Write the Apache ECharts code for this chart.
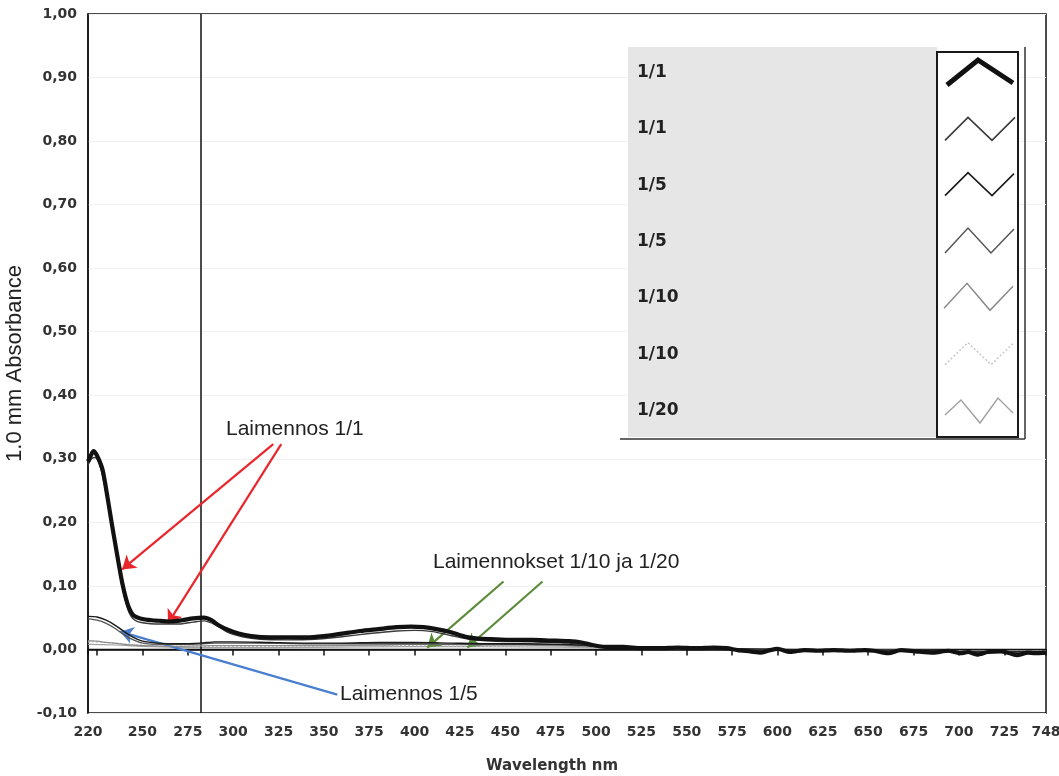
<!DOCTYPE html>
<html><head><meta charset="utf-8">
<script src="https://cdn.jsdelivr.net/npm/echarts@6/dist/echarts.min.js"></script>
<style>html,body{margin:0;padding:0;background:#fff}#c{width:1059px;height:776px}</style>
</head><body><div id="c"></div>
<script>
// ---- data ----
const seriesNames = ['1/1', '1/1', '1/5', '1/5', '1/10', '1/10', '1/20'];
const xTickValues = [220, 225, 250, 275, 300, 325, 350, 375, 400, 425, 450, 475, 500, 525, 550, 575, 600, 625, 650, 675, 700, 725, 748];
const xTickLabels = [220, 250, 275, 300, 325, 350, 375, 400, 425, 450, 475, 500, 525, 550, 575, 600, 625, 650, 675, 700, 725, 748];
const yTickValues = [-0.1, 0, 0.1, 0.2, 0.3, 0.4, 0.5, 0.6, 0.7, 0.8, 0.9, 1.0];
const yTickLabels = ['-0,10', '0,00', '0,10', '0,20', '0,30', '0,40', '0,50', '0,60', '0,70', '0,80', '0,90', '1,00'];
const markerWavelength = 282;

const wl11a = [220, 221.5, 223, 225, 228, 231, 233, 236, 239, 242, 245, 250, 255, 260, 266, 272, 278, 284, 288, 292, 297, 303, 310, 320, 330, 340, 350, 360, 370, 380, 390, 398, 405, 412, 420, 428, 435, 445, 455, 465, 475, 485, 492, 498, 505, 515, 525, 535, 545, 555, 565, 572, 578, 585, 591, 596, 600, 607, 615, 622, 631, 640, 648, 653, 661, 668, 676, 686, 694, 701, 705, 710, 716, 723, 728, 732, 738, 742, 748];
const ab11a = [0.296, 0.305, 0.312, 0.305, 0.283, 0.235, 0.200, 0.150, 0.103, 0.070, 0.054, 0.048, 0.046, 0.045, 0.044, 0.046, 0.049, 0.050, 0.046, 0.038, 0.031, 0.025, 0.021, 0.019, 0.019, 0.019, 0.021, 0.025, 0.029, 0.032, 0.035, 0.036, 0.035, 0.032, 0.027, 0.020, 0.017, 0.016, 0.015, 0.015, 0.014, 0.013, 0.011, 0.007, 0.004, 0.004, 0.002, 0.002, 0.003, 0.002, 0.003, 0.002, -0.001, -0.003, -0.005, -0.001, 0.001, -0.004, -0.001, -0.002, -0.001, -0.002, -0.001, -0.002, -0.006, -0.001, -0.003, -0.005, -0.002, -0.006, -0.004, -0.008, -0.004, -0.003, -0.006, -0.009, -0.005, -0.006, -0.005];

const wl11b = [220, 222, 224, 227, 230, 233, 236, 239, 242, 245, 250, 260, 270, 278, 284, 290, 297, 305, 315, 330, 345, 360, 375, 390, 400, 410, 420, 430, 445, 465, 485, 500, 520, 560, 600, 650, 700, 748];
const ab11b = [0.290, 0.300, 0.302, 0.285, 0.245, 0.195, 0.143, 0.097, 0.063, 0.048, 0.042, 0.040, 0.040, 0.043, 0.045, 0.039, 0.027, 0.020, 0.016, 0.015, 0.016, 0.020, 0.025, 0.029, 0.030, 0.028, 0.022, 0.016, 0.013, 0.012, 0.010, 0.005, 0.002, 0.001, -0.001, -0.002, -0.004, -0.005];

const wl15a = [220, 225, 230, 235, 240, 245, 250, 258, 270, 282, 290, 300, 320, 340, 360, 380, 400, 420, 440, 460, 480, 500, 520, 560, 600, 650, 700, 748];
const ab15a = [0.052, 0.051, 0.046, 0.038, 0.028, 0.019, 0.013, 0.010, 0.009, 0.010, 0.012, 0.012, 0.011, 0.010, 0.010, 0.011, 0.011, 0.010, 0.009, 0.009, 0.008, 0.006, 0.003, 0.002, 0.000, -0.001, -0.003, -0.004];

const wl15b = [220, 225, 230, 235, 240, 245, 250, 260, 275, 290, 310, 340, 370, 400, 430, 460, 490, 505, 530, 600, 700, 748];
const ab15b = [0.048, 0.046, 0.041, 0.033, 0.023, 0.015, 0.010, 0.008, 0.008, 0.010, 0.010, 0.009, 0.009, 0.009, 0.008, 0.008, 0.007, 0.004, 0.002, 0.000, -0.003, -0.004];

const wl110a = [220, 225, 230, 240, 250, 270, 290, 320, 350, 380, 400, 420, 440, 460, 480, 500, 530, 600, 700, 748];
const ab110a = [0.014, 0.013, 0.011, 0.008, 0.006, 0.005, 0.006, 0.006, 0.006, 0.007, 0.008, 0.008, 0.007, 0.007, 0.006, 0.004, 0.001, 0.000, -0.002, -0.003];

const wl110b = [220, 230, 240, 255, 280, 320, 360, 400, 440, 480, 505, 550, 650, 748];
const ab110b = [0.012, 0.011, 0.009, 0.006, 0.005, 0.005, 0.005, 0.006, 0.005, 0.005, 0.003, 0.001, -0.001, -0.002];

const wl120 = [220, 235, 250, 280, 320, 370, 420, 460, 500, 550, 650, 748];
const ab120 = [0.008, 0.007, 0.005, 0.003, 0.003, 0.004, 0.005, 0.004, 0.003, 0.001, -0.001, -0.002];

// annotation arrows in data space: [start, tip]
const redArrows = [[[322.1, 0.323], [238.8, 0.126]], [[326.5, 0.323], [264.1, 0.041]]];
const greenArrows = [[[449.0, 0.107], [407.0, 0.003]], [[470.5, 0.107], [429.1, 0.003]]];
const blueArrows = [[[357.4, -0.071], [237.7, 0.028]]];
const annotationTexts = ['Laimennos 1/1', 'Laimennokset 1/10 ja 1/20', 'Laimennos 1/5'];

// ---- styles ----
const seriesStyles = [
  { color: '#111111', width: 4.2, type: 'solid', z: 9 },
  { color: '#3a3a3a', width: 1.4, type: 'solid', z: 8 },
  { color: '#1a1a1a', width: 1.4, type: 'solid', z: 7 },
  { color: '#555555', width: 1.3, type: 'solid', z: 6 },
  { color: '#8a8a8a', width: 1.3, type: 'solid', z: 5 },
  { color: '#c4c4c4', width: 1.2, type: [2, 2], z: 4 },
  { color: '#a0a0a0', width: 1.2, type: 'solid', z: 3 }
];
const xs = [wl11a, wl11b, wl15a, wl15b, wl110a, wl110b, wl120];
const ys = [ab11a, ab11b, ab15a, ab15b, ab110a, ab110b, ab120];

const chart = echarts.init(document.getElementById('c'), null, { renderer: 'canvas' });

const lineSeries = seriesNames.map((name, i) => ({
  name: name,
  type: 'line',
  data: xs[i].map((x, k) => [x, ys[i][k]]),
  showSymbol: false,
  smooth: 0.25,
  z: seriesStyles[i].z,
  lineStyle: { color: seriesStyles[i].color, width: seriesStyles[i].width, type: seriesStyles[i].type },
  itemStyle: { color: seriesStyles[i].color },
  silent: true
}));

function arrowLines(arr) {
  return arr.map(a => [{ coord: a[0] }, { coord: a[1] }]);
}
function arrowSeries(arr, color) {
  return {
    type: 'line', data: [], silent: true, z: 12,
    markLine: {
      silent: true, animation: false,
      symbol: ['none', 'arrow'], symbolSize: 13,
      label: { show: false },
      lineStyle: { color: color, width: 2.2, type: 'solid' },
      emphasis: { disabled: true },
      data: arrowLines(arr)
    }
  };
}

const refSeries = {
  type: 'line', data: [], silent: true, z: 10,
  markLine: {
    silent: true, animation: false, symbol: ['none', 'none'],
    label: { show: false },
    emphasis: { disabled: true },
    data: [
      { xAxis: markerWavelength, lineStyle: { color: '#111', width: 1.5, type: 'solid' } },
      { yAxis: 0, lineStyle: { color: '#111', width: 1.3, type: 'solid' } }
    ]
  }
};

// legend graphics (drawn as a boxed key like the original)
const rowY = seriesNames.map((_, i) => 75 + i * 56.33);
const iconShapes = [
  [[947, 10], [978, -15], [1013, 8]],
  [[945, 9], [968, -14], [992, 9], [1015, -14]],
  [[945, 8], [968, -15], [992, 8], [1014, -14]],
  [[945, 9], [968, -16], [991, 9], [1014, -15]],
  [[944, 8], [967, -17], [990, 10], [1013, -14]],
  [[945, 8], [968, -14], [991, 8], [1014, -14]],
  [[945, 2], [961, -13], [980, 10], [998, -15], [1013, 0]]
];
const legendGraphics = [
  { type: 'rect', shape: { x: 628, y: 47, width: 309, height: 390 }, style: { fill: '#e6e6e6' }, silent: true, z: 20 },
  { type: 'rect', shape: { x: 937, y: 52, width: 81, height: 385 }, style: { fill: '#ffffff', stroke: '#1a1a1a', lineWidth: 2 }, silent: true, z: 21 },
  { type: 'line', shape: { x1: 1025, y1: 47, x2: 1025, y2: 439 }, style: { stroke: '#333', lineWidth: 1.5 }, silent: true, z: 21 },
  { type: 'line', shape: { x1: 620, y1: 439, x2: 1025, y2: 439 }, style: { stroke: '#333', lineWidth: 1.5 }, silent: true, z: 21 }
];
seriesNames.forEach((name, i) => {
  legendGraphics.push({
    type: 'text', left: 637, top: rowY[i] - 11, silent: true, z: 22,
    style: { text: name, fontFamily: 'DejaVu Sans', fontWeight: 'bold', fontSize: 17, fill: '#222' }
  });
  legendGraphics.push({
    type: 'polyline', silent: true, z: 22,
    shape: { points: iconShapes[i].map(p => [p[0], rowY[i] + p[1]]) },
    style: { stroke: seriesStyles[i].color, lineWidth: i === 0 ? 5 : seriesStyles[i].width + 0.2, fill: null, lineDash: Array.isArray(seriesStyles[i].type) ? seriesStyles[i].type : null }
  });
});

const textGraphics = [
  { type: 'text', left: 226, top: 419, silent: true, z: 25, style: { text: annotationTexts[0], fontFamily: 'Liberation Sans', fontSize: 21, fill: '#222' } },
  { type: 'text', left: 433, top: 552, silent: true, z: 25, style: { text: annotationTexts[1], fontFamily: 'Liberation Sans', fontSize: 21, fill: '#222' } },
  { type: 'text', left: 340, top: 684, silent: true, z: 25, style: { text: annotationTexts[2], fontFamily: 'Liberation Sans', fontSize: 21, fill: '#222' } }
];

chart.setOption({
  animation: false,
  backgroundColor: '#ffffff',
  grid: { left: 88, right: 13, top: 14, bottom: 63, outerBoundsMode: 'none', containLabel: false, show: true, borderColor: '#111', borderWidth: 1.5, backgroundColor: 'transparent' },
  xAxis: {
    type: 'value', min: 220, max: 748,
    name: 'Wavelength nm', nameLocation: 'middle', nameGap: 46,
    nameTextStyle: { fontFamily: 'DejaVu Sans', fontWeight: 'bold', fontSize: 15, color: '#333', padding: [0, 30, 0, 0] },
    axisLine: { show: true, lineStyle: { color: '#111', width: 1.5 } },
    axisTick: { show: true, length: 6, inside: false, customValues: xTickValues, lineStyle: { color: '#111', width: 1.5 } },
    axisLabel: { customValues: xTickLabels, margin: 12, fontFamily: 'DejaVu Sans', fontWeight: 'bold', fontSize: 14, color: '#333' },
    splitLine: { show: false }
  },
  yAxis: {
    type: 'value', min: -0.1, max: 1.0, interval: 0.1,
    name: '1.0 mm Absorbance', nameLocation: 'middle', nameGap: 41,
    nameTextStyle: { fontFamily: 'Liberation Sans', fontSize: 22, color: '#222' },
    axisLine: { show: true, lineStyle: { color: '#111', width: 1.5 } },
    axisTick: { show: false },
    axisLabel: {
      margin: 11, fontFamily: 'DejaVu Sans', fontWeight: 'bold', fontSize: 14, color: '#333',
      formatter: v => { const k = yTickValues.findIndex(t => Math.abs(t - v) < 1e-6); return k >= 0 ? yTickLabels[k] : ''; }
    },
    splitLine: { show: true, lineStyle: { color: '#f1f1f1', width: 1 } }
  },
  series: lineSeries.concat([refSeries, arrowSeries(redArrows, '#e8262b'), arrowSeries(greenArrows, '#5b8c3a'), arrowSeries(blueArrows, '#4a7fd0')]),
  graphic: legendGraphics.concat(textGraphics)
});
</script>
</body></html>
